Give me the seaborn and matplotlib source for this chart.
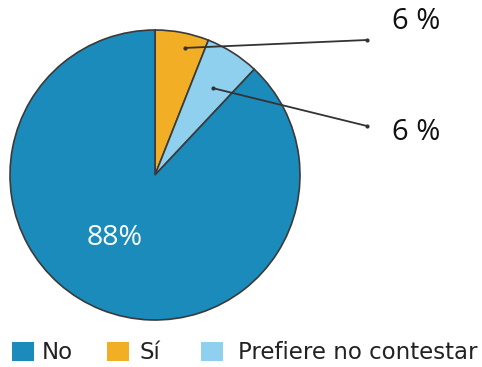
import matplotlib
matplotlib.use("Agg")
import matplotlib.pyplot as plt
import seaborn as sns
import numpy as np
from matplotlib.patches import Patch

sns.set_theme(style="white")
plt.rcParams['font.family'] = ['DejaVu Sans']

categories = ["Sí", "Prefiere no contestar", "No"]
values = [6, 6, 88]
colors = ["#f2ae24", "#8fd0ee", "#1a8bbb"]
value_labels = ["6 %", "6 %", "88%"]
legend_order = ["No", "Sí", "Prefiere no contestar"]

W, H = 482, 367
fig = plt.figure(figsize=(W / 100, H / 100), dpi=100)
ax = fig.add_axes([0, 0, 1, 1])
ax.set_xlim(0, W)
ax.set_ylim(0, H)
ax.set_aspect("equal")
ax.axis("off")

cx, cy, R = 155, 192, 145
wedges, _ = ax.pie(values, colors=colors, startangle=90, counterclock=False,
                   center=(cx, cy), radius=R,
                   wedgeprops=dict(edgecolor="#3a3a3a", linewidth=1.2))
ax.set_xlim(0, W)
ax.set_ylim(0, H)

# callouts for small slices
fracs = [0.9, 0.72]
angfr = [0.39, 0.44]
ends = [(367, 327), (367, 241)]
text_pos = [(416, 345.5), (416, 234.5)]
for w, f, a, e, tp, lab in zip(wedges[:2], fracs, angfr, ends, text_pos, value_labels[:2]):
    ang = np.deg2rad(w.theta1 + a * (w.theta2 - w.theta1))
    px, py = cx + f * R * np.cos(ang), cy + f * R * np.sin(ang)
    ax.plot([px, e[0]], [py, e[1]], color="#333333", lw=1.3,
            marker="o", markersize=3, markerfacecolor="#333333",
            markeredgewidth=0, solid_capstyle="round")
    ax.text(tp[0], tp[1], lab, ha="center", va="center", fontsize=21,
            family=["Open Sans", "DejaVu Sans"], color="#111111")

ax.text(115, 129, value_labels[2], ha="center", va="center", fontsize=20.5,
        family=["Open Sans", "DejaVu Sans"], color="white")

cmap = dict(zip(categories, colors))
leg_x = [12, 107, 201]
pads = [0.35, 0.48, 0.65]
for i, (c, lx, p) in enumerate(zip(legend_order, leg_x, pads)):
    h = Patch(facecolor=cmap[c], edgecolor="none", label=c)
    leg = ax.legend(handles=[h], loc="lower left", bbox_to_anchor=(lx / W, 3 / H),
                    frameon=False, fontsize=16.5, handlelength=0.95,
                    handleheight=0.9, handletextpad=p,
                    borderpad=0, borderaxespad=0)
    for t in leg.get_texts():
        t.set_color("#222222")
    if i < len(legend_order) - 1:
        ax.add_artist(leg)

fig.savefig("out.png", dpi=100)
